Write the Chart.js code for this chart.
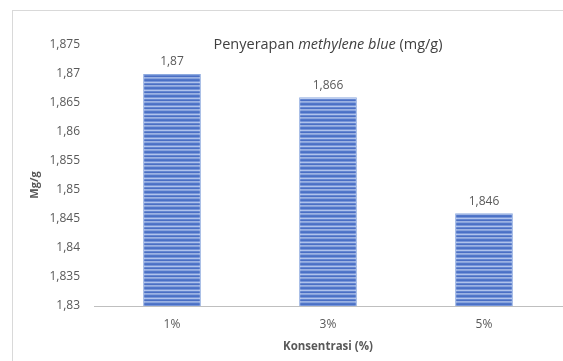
<!DOCTYPE html>
<html>
<head>
<meta charset="utf-8">
<script src="https://cdn.jsdelivr.net/npm/chart.js@4"></script>
<style>
  html, body { margin: 0; padding: 0; background: #fff; overflow: hidden; }
  #wrap { position: relative; width: 563px; height: 361px; }
  #frame { position: absolute; left: 12px; top: 10px; width: 600px; height: 400px; border: 1px solid #d9d9d9; }
  #chart { position: absolute; left: 0; top: 0; }
</style>
</head>
<body>
<div id="wrap">
  <div id="frame"></div>
  <canvas id="chart" width="563" height="361"></canvas>
</div>
<script>
const categories = ['1%', '3%', '5%'];
const values = [1.87, 1.866, 1.846];
const yMin = 1.83;
const yMax = 1.875;
const yStep = 0.005;

const FONT = '"Open Sans", sans-serif';
const fmt = v => String(Math.round(v * 1000) / 1000).replace('.', ',');

// horizontal striped fill like the original
function stripePattern() {
    const c = document.createElement('canvas');
    c.width = 4; c.height = 8;
    const g = c.getContext('2d');
    const rows = ['#4a70c6', '#7896d8', '#b0c3ec', '#6486d0', '#4b6fc4', '#9bb2e2', '#88a3dd', '#5277c9'];
    rows.forEach((col, i) => { g.fillStyle = col; g.fillRect(0, i, 4, 1); });
    return g.createPattern(c, 'repeat');
}

const extras = {
    id: 'extras',
    afterDatasetsDraw(chart) {
        const ctx = chart.ctx;
        const meta = chart.getDatasetMeta(0);
        ctx.save();
        ctx.fillStyle = '#595959';
        ctx.font = '12px ' + FONT;
        ctx.textAlign = 'center';
        ctx.textBaseline = 'bottom';
        meta.data.forEach((bar, i) => {
            ctx.fillText(fmt(values[i]), bar.x, bar.y - 6);
        });

        // title with italic part
        const parts = [
            ['Penyerapan ', 'normal'],
            ['methylene blue', 'italic'],
            [' (mg/g)', 'normal']
        ];
        let total = 0;
        parts.forEach(p => { ctx.font = p[1] + ' 14.5px ' + FONT; total += ctx.measureText(p[0]).width; });
        let x = (chart.chartArea.left + chart.chartArea.right) / 2 - total / 2;
        ctx.fillStyle = '#404040';
        ctx.textAlign = 'left';
        ctx.textBaseline = 'middle';
        parts.forEach(p => {
            ctx.font = p[1] + ' 14.5px ' + FONT;
            ctx.fillText(p[0], x, 45);
            x += ctx.measureText(p[0]).width;
        });

        // y axis title
        ctx.translate(35, 185);
        ctx.rotate(-Math.PI / 2);
        ctx.font = 'bold 11px ' + FONT;
        ctx.fillStyle = '#595959';
        ctx.textAlign = 'center';
        ctx.fillText('Mg/g', 0, 0);
        ctx.restore();
    }
};

new Chart(document.getElementById('chart'), {
    type: 'bar',
    data: {
        labels: categories,
        datasets: [{
            data: values,
            backgroundColor: stripePattern(),
            borderColor: '#8eaadf',
            borderWidth: 1,
            categoryPercentage: 1,
            barPercentage: 0.37
        }]
    },
    options: {
        responsive: false,
        animation: false,
        layout: { padding: { left: 0, right: 1, top: 45, bottom: 0 } },
        plugins: { legend: { display: false }, tooltip: { enabled: false } },
        scales: {
            x: {
                grid: { display: false, drawTicks: false },
                border: { color: '#bfbfbf', width: 1 },
                ticks: { color: '#595959', font: { family: FONT, size: 12 }, padding: 11 },
                title: { display: true, text: 'Konsentrasi (%)', color: '#595959', font: { family: FONT, size: 11.5, weight: 'bold' }, padding: { top: 2, bottom: 7 } },
                afterFit(scale) { scale.height = 55; }
            },
            y: {
                min: yMin,
                max: yMax,
                grid: { display: false, drawTicks: false },
                border: { display: false },
                ticks: { stepSize: yStep, color: '#595959', font: { family: FONT, size: 12 }, padding: 14, callback: v => fmt(v) },
                afterFit(scale) { scale.width = 94; }
            }
        }
    },
    plugins: [extras]
});
</script>
</body>
</html>
